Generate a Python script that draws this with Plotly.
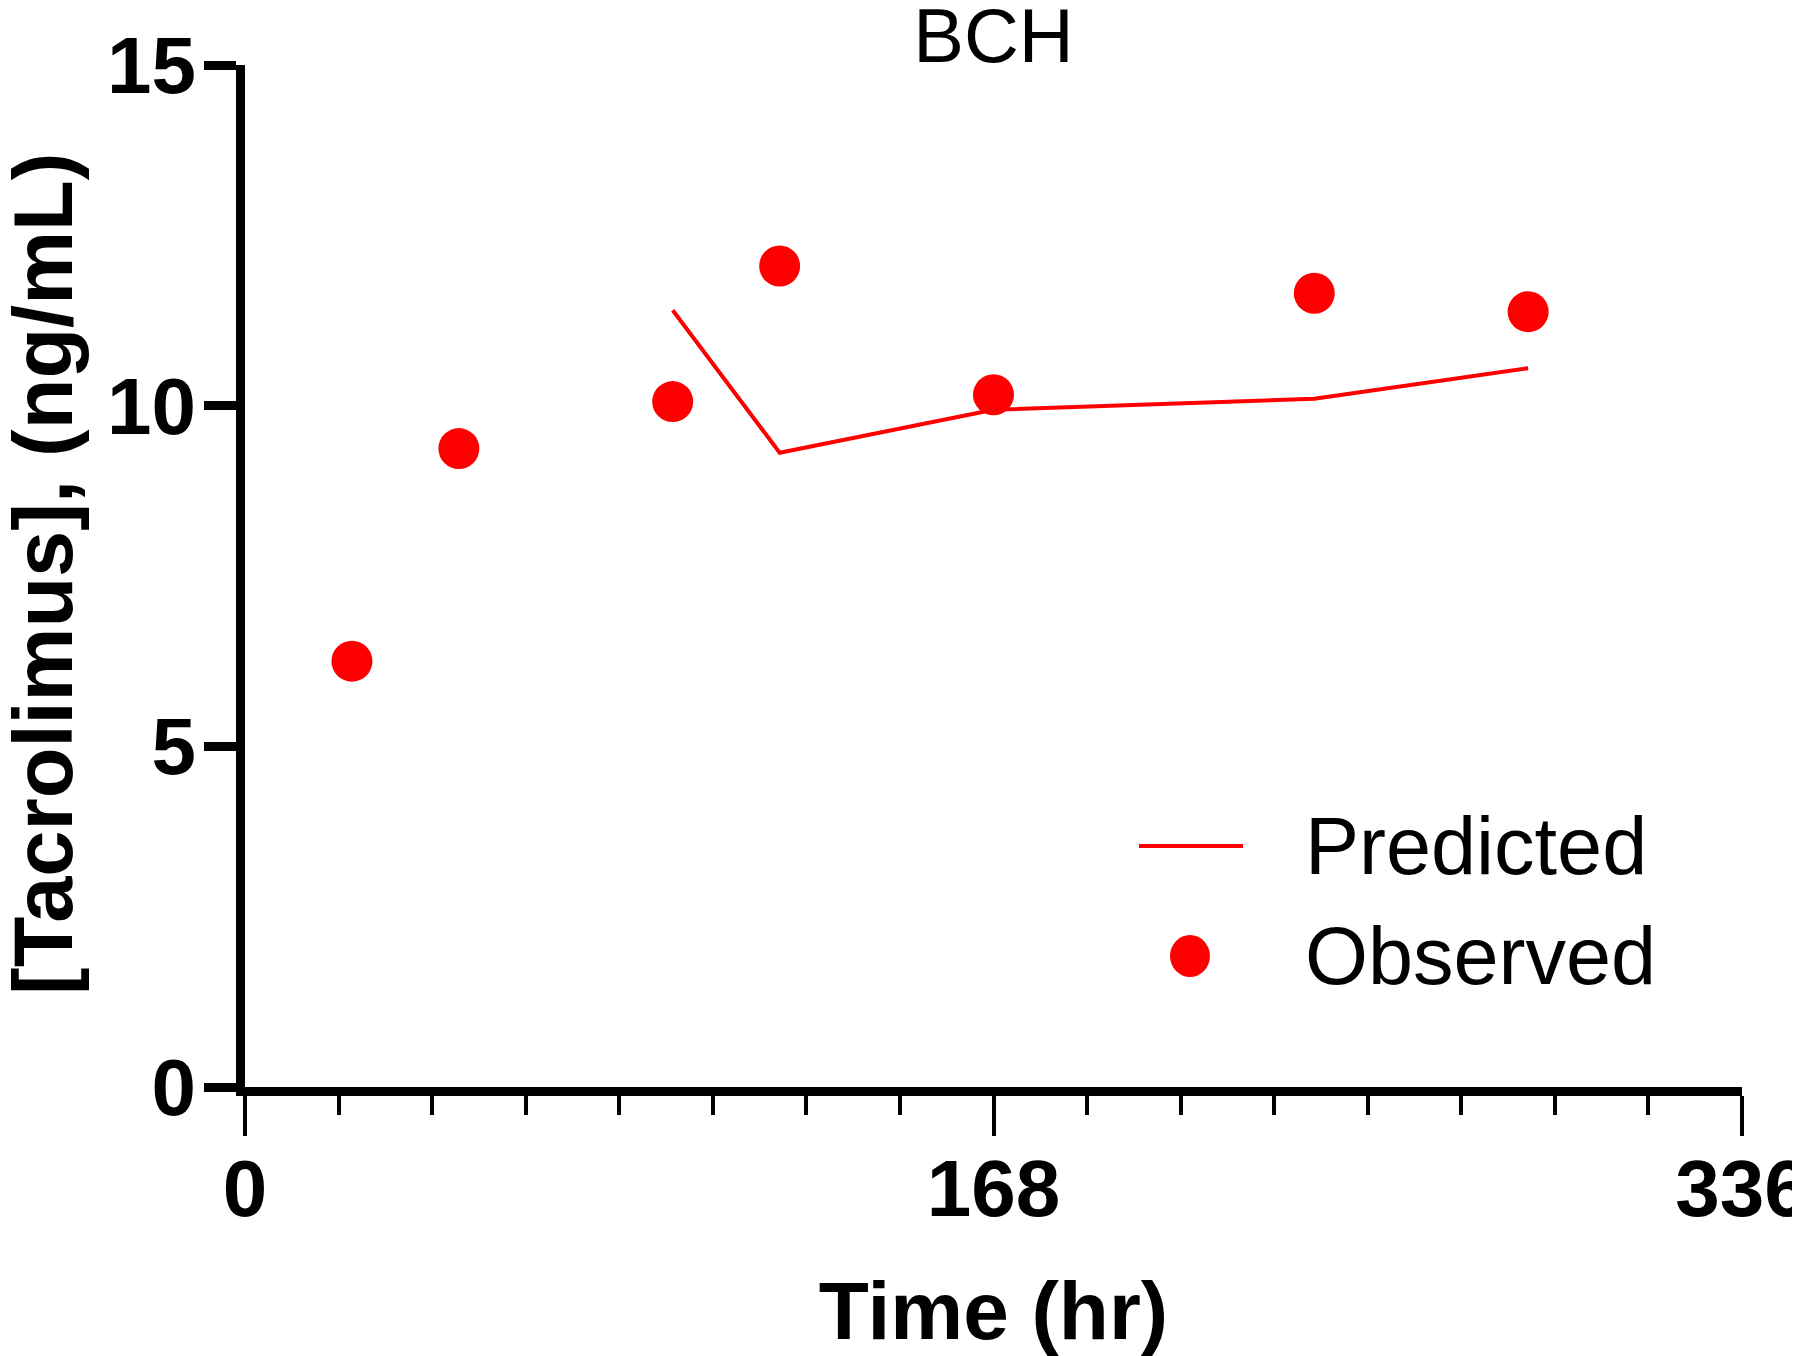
import plotly.graph_objects as go

# Data
obs_time = [24, 48, 96, 120, 168, 240, 288]
obs_conc = [6.25, 9.37, 10.06, 12.05, 10.16, 11.65, 11.38]
pred_time = [96, 120, 168, 240, 288]
pred_conc = [11.40, 9.31, 9.94, 10.10, 10.55]
x_ticks = [0, 168, 336]
y_ticks = [0, 5, 10, 15]

RED = "#ff0000"
FONT = "Liberation Sans, Arial, sans-serif"

fig = go.Figure()
fig.add_trace(go.Scatter(x=pred_time, y=pred_conc, mode="lines", name="Predicted",
                         line=dict(color=RED, width=4), showlegend=False, cliponaxis=False))
fig.add_trace(go.Scatter(x=obs_time, y=obs_conc, mode="markers", name="Observed",
                         marker=dict(color=RED, size=41, line=dict(width=0)),
                         showlegend=False, cliponaxis=False))

OFF = 8  # page body margin
W, H = 1792, 1348
L, R, T, B = 237, 58, 57, 269
pw = W - L - R
ph = H - T - B

def px2paper(px, py):
    return (px - OFF - L) / pw, (H - B - (py - OFF)) / ph

# manual legend (layout decoration)
lx0, ly = px2paper(1139, 846)
lx1, _ = px2paper(1243, 846)
cx, cy = px2paper(1190, 956)
tx, _ = px2paper(1303, 0)
_, ty1 = px2paper(0, 846)
_, ty2 = px2paper(0, 956)
yt_x, yt_y = px2paper(43, 574)

shapes = [
    dict(type="line", xref="paper", yref="paper", x0=lx0, x1=lx1, y0=ly, y1=ly,
         line=dict(color=RED, width=4)),
    dict(type="circle", xref="paper", yref="paper", xsizemode="pixel", ysizemode="pixel",
         xanchor=cx, yanchor=cy, x0=-20, x1=20, y0=-21, y1=21,
         fillcolor=RED, line=dict(width=0)),
]
annotations = [
    dict(text="Predicted", xref="paper", yref="paper", x=tx, y=ty1, xanchor="left",
         yanchor="middle", showarrow=False, font=dict(family=FONT, size=81, color="black")),
    dict(text="Observed", xref="paper", yref="paper", x=tx, y=ty2, xanchor="left",
         yanchor="middle", showarrow=False, font=dict(family=FONT, size=81, color="black")),
    dict(text="[Tacrolimus], (ng/mL)", xref="paper", yref="paper", x=yt_x, y=yt_y,
         xanchor="center", yanchor="middle", textangle=-90, showarrow=False,
         font=dict(family=FONT, size=83, color="black", weight="bold")),
]

fig.update_layout(
    width=W, height=H, autosize=False,
    margin=dict(l=L, r=R, t=T, b=B),
    paper_bgcolor="white", plot_bgcolor="white",
    font=dict(family=FONT, color="black"),
    title=dict(text="BCH", x=0.5, xref="paper", xanchor="center",
               y=1 - 27 / H, yref="container", yanchor="middle",
               font=dict(family=FONT, size=76, color="black")),
    shapes=shapes, annotations=annotations,
)

fig.update_xaxes(
    range=[0, 336], tickvals=x_ticks, ticktext=[str(v) for v in x_ticks],
    automargin=False,
    showgrid=False, zeroline=False, showline=True, linecolor="black", linewidth=9,
    ticks="outside", ticklen=40, tickwidth=4, tickcolor="black",
    minor=dict(dtick=21, ticks="outside", ticklen=19, tickwidth=4, tickcolor="black", showgrid=False),
    tickfont=dict(family=FONT, size=80, color="black", weight="bold"),
    ticklabeloverflow="allow", ticklabelstandoff=-16,
    title=dict(text="Time (hr)", font=dict(family=FONT, size=82, color="black", weight="bold"),
               standoff=53),
)
fig.update_yaxes(
    range=[0, 15], tickvals=y_ticks, ticktext=[str(v) for v in y_ticks],
    automargin=False,
    showgrid=False, zeroline=False, showline=True, linecolor="black", linewidth=9,
    ticks="outside", ticklen=32, tickwidth=9, tickcolor="black",
    tickfont=dict(family=FONT, size=80, color="black", weight="bold"),
    ticklabelstandoff=-8,
)

fig.write_html("out.html")
